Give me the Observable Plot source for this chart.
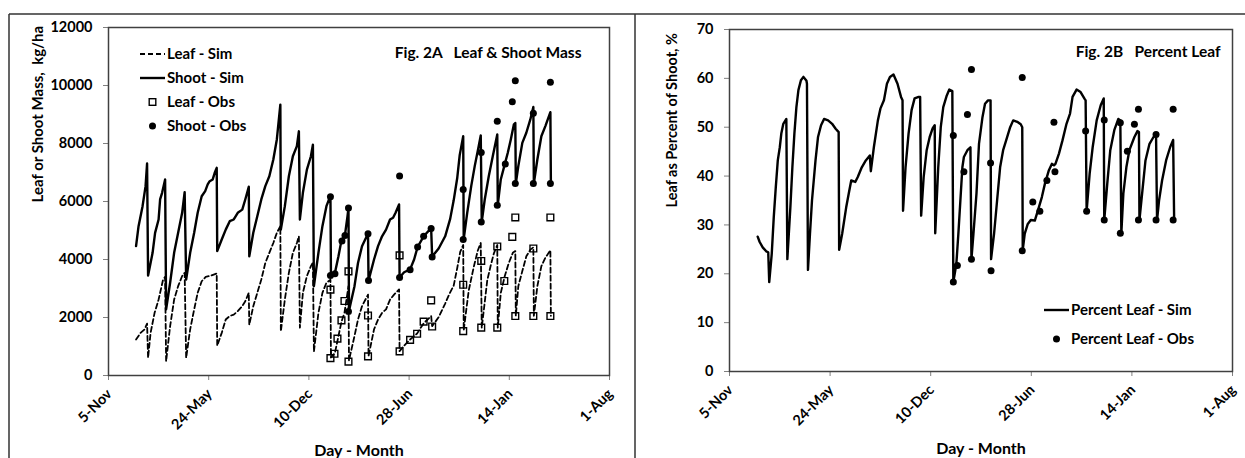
<!DOCTYPE html>
<html><head><meta charset="utf-8">
<script src="https://cdn.jsdelivr.net/npm/d3@7"></script>
<script src="https://cdn.jsdelivr.net/npm/@observablehq/plot@0.6"></script>
<style>
html,body{margin:0;padding:0;background:#fff;}
#wrap{position:relative;width:1245px;height:458px;overflow:hidden;background:#fff;}
#wrap svg{position:absolute;top:0;}
svg text{font-family:Lato, "Open Sans", sans-serif;font-weight:bold;}
</style></head><body><div id="wrap"></div>
<script>
// x positions are days counted from 5-Nov (axis spans 1000 days)
const tickDays = [0, 200, 400, 600, 800, 1000];
const tickLabels = ["5-Nov", "24-May", "10-Dec", "28-Jun", "14-Jan", "1-Aug"];
const massTicks = [0, 2000, 4000, 6000, 8000, 10000, 12000];
const pctTicks = [0, 10, 20, 30, 40, 50, 60, 70];

const shootSim = [[55,4460],[60,5150],[68,5840],[74,6530],[77,7310],
[79,3450],[88,4230],[93,4920],[100,5380],[103,6070],[107,6300],[113,6760],
[115,2280],[123,3200],[131,4230],[139,4920],[147,5610],[152,6320],
[155,3310],[163,4230],[171,4920],[178,5610],[186,6180],[193,6360],[198,6590],[202,6700],[208,6760],[212,6990],[216,7160],
[217,4290],[226,4690],[234,5030],[242,5320],[250,5380],[258,5610],[267,5720],[273,6070],[280,6510],
[281,4110],[289,4920],[297,5490],[305,6070],[313,6530],[321,6870],[329,7450],[336,8140],[343,9340],
[344,5030],[352,5840],[360,6870],[368,7560],[376,7910],[380,8420],
[382,5380],[388,6300],[396,7100],[404,7560],[408,7960],
[410,3080],[419,4230],[427,5150],[435,5840],[443,6200],
[444,3450],[452,3540],[459,4110],[465,4660],[472,4850],[477,5490],[479,5780],
[480,2230],[491,3080],[498,3880],[506,4460],[518,4900],
[519,3270],[530,4000],[538,4460],[546,4800],[554,5030],[562,5380],[568,5440],[573,5610],[580,5900],
[581,3380],[590,3560],[602,3660],[610,4000],[617,4430],[629,4800],[644,5080],
[646,4100],[659,4380],[672,4800],[682,5400],[689,6040],[696,6800],[701,7600],[708,8250],
[709,4700],[716,5610],[724,6530],[731,7220],[739,7910],[743,8280],
[745,5300],[751,6070],[759,6870],[767,7560],[776,8310],
[777,5880],[783,6760],[791,7290],[797,7680],[803,8140],[809,8650],[812,8710],
[813,6620],[818,7220],[826,8020],[834,8370],[842,8830],[848,9260],
[849,6630],[856,7450],[864,8250],[872,8600],[882,9080],
[883,6630]];

const leafSim = [[55,1240],[64,1470],[72,1590],[77,1790],
[79,610],[84,1470],[92,2160],[100,2620],[109,3310],[113,3400],
[115,490],[123,1700],[131,2620],[139,3080],[147,3430],[152,3540],
[155,610],[163,1590],[171,2280],[178,2850],[186,3250],[194,3400],[202,3430],[210,3480],[216,3520],
[217,1030],[226,1470],[234,1930],[242,2050],[250,2100],[258,2220],[267,2390],[273,2560],[280,2850],
[281,1750],[289,2390],[297,2850],[305,3310],[313,3880],[321,4230],[329,4570],[336,4920],[343,5150],
[344,1520],[352,2620],[360,3540],[368,4230],[376,4570],[380,4800],
[382,1650],[388,2850],[396,3430],[404,3770],[408,3900],
[410,820],[419,2160],[427,2850],[435,3200],[443,3300],
[444,620],[452,780],[459,1360],[465,1850],[471,2160],[477,2850],[479,3080],
[480,520],[491,1360],[498,1930],[506,2390],[518,2790],
[519,670],[530,1590],[538,1930],[546,2160],[554,2280],[562,2620],[570,2790],[580,2970],
[581,840],[589,1010],[602,1240],[616,1450],[629,1800],[644,2050],
[646,1700],[659,2010],[672,2480],[680,2800],[689,3100],[696,3700],[702,4260],[708,4500],
[709,1560],[719,2930],[729,3740],[737,4300],[743,4570],
[745,1640],[756,3280],[763,3800],[769,4200],[776,4500],
[777,1650],[783,2850],[791,3430],[799,3880],[807,4230],[812,4290],
[813,2060],[818,3080],[826,3600],[834,4110],[842,4340],[848,4420],
[849,2060],[856,3080],[864,3770],[872,4060],[882,4320],
[883,2060]];

const leafObs = [[443,2960],[443,600],[451,750],[457,1270],[465,1900],[471,2570],[479,3590],[479,480],
[518,2070],[518,660],[581,4140],[581,830],[602,1230],[616,1440],[629,1860],[644,2590],[646,1690],
[708,3130],[708,1530],[744,3950],[744,1650],[776,4450],[776,1650],[790,3260],[806,4780],
[812,5450],[812,2050],[848,4380],[848,2050],[882,5450],[882,2050]];

const shootObs = [[443,6160],[443,3450],[452,3510],[466,4640],[472,4830],[479,5780],[479,2210],
[518,4890],[519,3280],[581,6880],[581,3380],[602,3650],[617,4430],[629,4800],[644,5070],[646,4090],
[708,6410],[708,4690],[744,7690],[744,5290],[776,8770],[776,5870],[792,7290],[806,9440],
[812,10160],[812,6620],[848,9040],[848,6620],[882,10110],[882,6620]];

const pctSim = [[56,27.6],[60,26.5],[66,25.4],[73,24.6],[77,24.4],
[79,18.3],[84,24.1],[88,31.6],[92,37.7],[96,43.2],[100,45.9],[103,48.7],[107,50.7],[113,51.7],
[115,23.0],[121,33.6],[125,41.8],[129,48.7],[133,54.1],[137,57.6],[142,59.6],[147,60.3],[153,59.5],[154,58.9],
[156,20.8],[160,28.2],[164,35.0],[171,43.2],[176,48.0],[182,50.4],[188,51.7],[196,51.4],[204,50.7],[211,49.7],[217,49.0],
[218,24.9],[224,28.2],[232,33.6],[237,36.4],[242,39.1],[250,38.8],[255,39.8],[263,41.8],[271,43.2],[279,44.2],
[281,41.0],[287,45.9],[295,51.4],[300,53.8],[307,55.5],[313,58.9],[319,60.3],[326,60.8],[334,58.9],[341,56.2],[344,55.5],
[345,32.9],[350,41.8],[356,48.7],[362,53.5],[368,55.9],[376,56.2],[379,56.2],
[381,31.9],[386,39.8],[392,45.3],[398,48.0],[404,49.8],[408,50.4],
[409,28.3],[415,41.8],[420,50.0],[425,54.1],[432,56.5],[437,57.7],[443,57.4],
[445,18.3],[451,22.0],[455,28.2],[459,35.0],[463,41.8],[466,43.9],[473,45.3],[479,45.9],
[481,23.0],[485,28.2],[491,36.4],[496,46.6],[503,52.1],[508,54.8],[514,55.5],[519,55.5],
[520,23.0],[526,28.2],[532,35.0],[538,41.8],[544,45.3],[550,47.3],[558,50.0],[564,51.4],[572,51.1],[579,50.6],[582,50.0],
[583,24.9],[587,28.2],[593,30.2],[599,31.0],[607,30.9],[615,33.6],[621,35.7],[627,38.4],[635,41.2],[641,42.5],[645,42.2],[648,42.5],[655,44.6],[662,47.3],[670,50.7],[677,52.8],[682,56.2],[690,57.7],[698,57.2],[706,55.8],[708,55.5],
[710,32.8],[716,40.5],[722,45.9],[730,51.4],[738,54.5],[744,55.9],
[745,31.0],[751,38.4],[757,45.3],[765,49.4],[773,51.7],[777,51.4],
[779,28.3],[783,36.4],[789,41.8],[795,45.3],[805,48.0],[811,49.2],[814,49.0],
[815,31.0],[821,37.1],[827,43.2],[835,46.6],[843,48.0],[848,48.5],
[850,31.0],[854,35.0],[860,39.1],[868,43.2],[876,45.9],[882,47.4],
[884,31.0]];

const pctObs = [[445,48.3],[445,18.3],[453,21.7],[466,40.9],[473,52.6],[481,61.8],[481,23.0],
[519,42.7],[520,20.6],[582,60.2],[582,24.7],[603,34.7],[617,32.8],[631,39.1],[645,51.0],[647,40.9],
[708,49.2],[710,32.8],[745,51.5],[745,31.0],[777,50.9],[777,28.3],[791,45.1],[805,50.6],
[813,53.7],[813,31.0],[848,48.5],[848,31.0],[882,53.7],[882,31.0]];

const legendA = [{label:"Leaf - Sim", kind:"dash"},{label:"Shoot - Sim", kind:"line"},{label:"Leaf - Obs", kind:"square"},{label:"Shoot - Obs", kind:"dot"}];
const legendB = [{label:"Percent Leaf - Sim", kind:"line"},{label:"Percent Leaf - Obs", kind:"dot"}];
const titleA = "Fig. 2A\u00a0\u00a0 Leaf & Shoot Mass";
const titleB = "Fig. 2B\u00a0\u00a0 Percent Leaf";
const yTitleA = "Leaf or Shoot Mass,  kg/ha";
const yTitleB = "Leaf as Percent of Shoot, %";
const xTitle = "Day - Month";

const X = d => d[0], Y = d => d[1];
const fmt = d => tickLabels[tickDays.indexOf(d)];
const plain = d => String(d);
const blank = () => "";
const baseStyle = {background:"transparent", fontFamily:"Lato, sans-serif", fontSize:"15px", fontWeight:"bold", color:"black"};
const TICK_FS = 14.5;

const wrap = document.getElementById("wrap");

function axesMarks(yTicks) {
  return [
    Plot.axisY({ticks: yTicks, tickFormat: blank, tickSize: 5, stroke: "#808080", label: null}),
    Plot.axisX({ticks: tickDays, tickFormat: blank, tickSize: 5, stroke: "#808080", label: null}),
    Plot.text(yTicks, {y: d => d, text: plain, frameAnchor: "left", textAnchor: "end", lineAnchor: "middle", dx: -16, fontSize: TICK_FS, fill: "black"}),
    Plot.text(tickDays, {x: d => d, text: fmt, frameAnchor: "bottom", textAnchor: "end", lineAnchor: "middle", rotate: -45, dx: 1, dy: 16, fontSize: TICK_FS, fill: "black"})
  ];
}

const left = Plot.plot({
  width: 625, height: 458,
  marginLeft: 108, marginRight: 16, marginTop: 27, marginBottom: 83,
  x: {domain: [0, 1000]},
  y: {domain: [0, 12000]},
  style: baseStyle,
  marks: [
    ...axesMarks(massTicks),
    Plot.line(leafSim, {x: X, y: Y, stroke: "black", strokeWidth: 1.8, strokeDasharray: "5,3"}),
    Plot.line(shootSim, {x: X, y: Y, stroke: "black", strokeWidth: 2.4}),
    Plot.dot(leafObs, {x: X, y: Y, symbol: "square", r: 3.8, stroke: "black", strokeWidth: 1.4, fill: "none"}),
    Plot.dot(shootObs, {x: X, y: Y, r: 3.5, fill: "black"}),
    Plot.frame({stroke: "#404040", strokeWidth: 1.5}),
    Plot.text([titleA], {text: d => d, frameAnchor: "top-right", textAnchor: "end", lineAnchor: "middle", dx: -28, dy: 26, fontSize: 15.5}),
    Plot.text([yTitleA], {text: d => d, frameAnchor: "left", rotate: -90, dx: -70, dy: 1, fontSize: 15}),
    Plot.text([xTitle], {text: d => d, frameAnchor: "bottom", lineAnchor: "middle", dy: 75, fontSize: 16})
  ]
});
left.style.left = "0px";
wrap.appendChild(left);

const right = Plot.plot({
  width: 625, height: 458,
  marginLeft: 109, marginRight: 13, marginTop: 29, marginBottom: 87,
  x: {domain: [0, 1000]},
  y: {domain: [0, 70]},
  style: baseStyle,
  marks: [
    ...axesMarks(pctTicks),
    Plot.line(pctSim, {x: X, y: Y, stroke: "black", strokeWidth: 2.4}),
    Plot.dot(pctObs, {x: X, y: Y, r: 3.5, fill: "black"}),
    Plot.frame({stroke: "#404040", strokeWidth: 1.5}),
    Plot.text([titleB], {text: d => d, frameAnchor: "top-right", textAnchor: "end", lineAnchor: "middle", dx: -12, dy: 23, fontSize: 15.5}),
    Plot.text([yTitleB], {text: d => d, frameAnchor: "left", rotate: -90, dx: -57, dy: 7, fontSize: 14.5}),
    Plot.text([xTitle], {text: d => d, frameAnchor: "bottom", lineAnchor: "middle", dy: 77, fontSize: 16})
  ]
});
right.style.left = "620px";
wrap.appendChild(right);

// overlay: outer cell borders and legends
const ov = d3.select(wrap).append("svg").attr("width", 1245).attr("height", 458).style("left", "0px");
ov.append("path").attr("d", "M9,14H1245M9,14V458M635,14V458").attr("stroke", "#333").attr("stroke-width", 1.5).attr("fill", "none");

function legend(items, x0, y0, step) {
  const g = ov.append("g");
  items.forEach((it, i) => {
    const y = y0 + i * step;
    if (it.kind === "dash") g.append("line").attr("x1", x0).attr("x2", x0 + 25).attr("y1", y).attr("y2", y).attr("stroke", "black").attr("stroke-width", 1.8).attr("stroke-dasharray", "5,3");
    if (it.kind === "line") g.append("line").attr("x1", x0).attr("x2", x0 + 25).attr("y1", y).attr("y2", y).attr("stroke", "black").attr("stroke-width", 2.4);
    if (it.kind === "square") g.append("rect").attr("x", x0 + 12.5 - 3.3).attr("y", y - 3.3).attr("width", 6.6).attr("height", 6.6).attr("fill", "none").attr("stroke", "black").attr("stroke-width", 1.4);
    if (it.kind === "dot") g.append("circle").attr("cx", x0 + 12.5).attr("cy", y).attr("r", 3.5).attr("fill", "black");
    g.append("text").attr("x", x0 + 27).attr("y", y).attr("dy", "0.36em").attr("font-size", 15).attr("fill", "black").text(it.label);
  });
}
legend(legendA, 140, 54, 24);
legend(legendB, 1044, 310, 29);
</script></body></html>
